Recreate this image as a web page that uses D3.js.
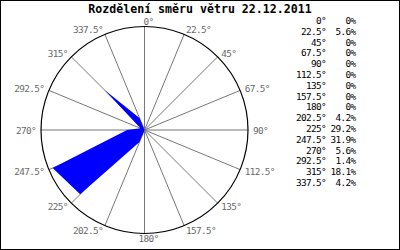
<!DOCTYPE html>
<html>
<head>
<meta charset="utf-8">
<script src="https://cdn.jsdelivr.net/npm/d3@7"></script>
<style>
  body { margin: 0; background: #fff; }
  text { font-family: "DejaVu Sans Mono", monospace; }
  .small { font-size: 9.4px; letter-spacing: -0.66px; }
</style>
</head>
<body>
<script>
// wind directions (degrees) and share of time (%)
var directions = [0, 22.5, 45, 67.5, 90, 112.5, 135, 157.5, 180, 202.5, 225, 247.5, 270, 292.5, 315, 337.5];
var percents = [0, 5.6, 0, 0, 0, 0, 0, 0, 0, 4.2, 29.2, 31.9, 5.6, 1.4, 18.1, 4.2];
var dirLabels = directions.map(function(d) { return d + "°"; });
var pctLabels = percents.map(function(p) { return p + "%"; });
var title = "Rozdělení směru větru 22.12.2011";

var width = 400, height = 250;
var cx = 144.5, cy = 130, radius = 103.5;

var svg = d3.select("body").append("svg")
    .attr("width", width)
    .attr("height", height);

svg.append("rect")
    .attr("x", 0.5).attr("y", 0.5)
    .attr("width", width - 1).attr("height", height - 1)
    .attr("fill", "#fff")
    .attr("stroke", "#000");

// title
svg.append("text")
    .attr("x", width / 2)
    .attr("y", 9)
    .attr("text-anchor", "middle")
    .attr("dominant-baseline", "central")
    .style("font-size", "11.6px")
    .style("font-weight", "bold")
    .text(title);

// radial scale
var r = d3.scaleLinear().domain([0, 33.2]).range([0, radius]);
var rad = function(deg) { return deg * Math.PI / 180; };

var g = svg.append("g")
    .attr("transform", "translate(" + cx + "," + cy + ")");

// spokes
g.selectAll("line.spoke")
    .data(directions)
  .enter().append("line")
    .attr("class", "spoke")
    .attr("x1", 0).attr("y1", 0)
    .attr("x2", function(d) { return radius * Math.sin(rad(d)); })
    .attr("y2", function(d) { return -radius * Math.cos(rad(d)); })
    .attr("stroke", "#777")
    .attr("stroke-width", 1);

// outer circle
g.append("circle")
    .attr("r", radius)
    .attr("fill", "none")
    .attr("stroke", "#000")
    .attr("stroke-width", 1.2);

// direction labels
g.selectAll("text.dir")
    .data(directions)
  .enter().append("text")
    .attr("class", "dir small")
    .attr("x", function(d) {
      var x = (radius + 5) * Math.sin(rad(d));
      return (d === 0 || d === 180) ? x + 4 : x;
    })
    .attr("y", function(d) { return -(radius + 5) * Math.cos(rad(d)); })
    .attr("text-anchor", function(d) {
      if (d === 0 || d === 180) return "middle";
      return d < 180 ? "start" : "end";
    })
    .attr("dominant-baseline", "central")
    .attr("fill", "#6a6a6a")
    .text(function(d, i) { return dirLabels[i]; });

// wind rose polygon
var rose = d3.lineRadial()
    .angle(function(d) { return rad(d[0]); })
    .radius(function(d) { return r(d[1]); })
    .curve(d3.curveLinearClosed);

g.append("path")
    .datum(directions.map(function(d, i) { return [d, percents[i]]; }))
    .attr("d", rose)
    .attr("fill", "#0000ff")
    .attr("stroke", "none");

// table on the right
var rowY = d3.scaleLinear().domain([0, directions.length - 1]).range([20.5, 182.5]);

var rows = svg.selectAll("g.row")
    .data(directions)
  .enter().append("g")
    .attr("class", "row")
    .attr("transform", function(d, i) { return "translate(0," + rowY(i) + ")"; });

rows.append("text")
    .attr("class", "small")
    .attr("x", 326)
    .attr("text-anchor", "end")
    .attr("dominant-baseline", "central")
    .text(function(d, i) { return dirLabels[i]; });

rows.append("text")
    .attr("class", "small")
    .attr("x", 355.5)
    .attr("text-anchor", "end")
    .attr("dominant-baseline", "central")
    .text(function(d, i) { return pctLabels[i]; });
</script>
</body>
</html>
